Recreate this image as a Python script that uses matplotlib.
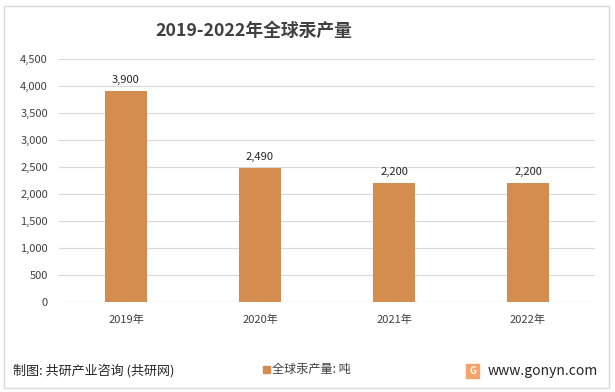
import matplotlib.pyplot as plt
from matplotlib.patches import Rectangle
import numpy as np

plt.rcParams["font.family"] = ["Noto Sans CJK SC", "DejaVu Sans"]

years = ["2019年", "2020年", "2021年", "2022年"]
output = [3900, 2490, 2200, 2200]
yticks = [0, 500, 1000, 1500, 2000, 2500, 3000, 3500, 4000, 4500]

W, H = 615, 392
fig = plt.figure(figsize=(W / 100, H / 100), dpi=100)


def box(x0, y0, x1, y1):
    # pixel coords (top-left origin) -> figure fraction
    return [x0 / W, 1 - y1 / H, (x1 - x0) / W, (y1 - y0) / H]


fig.patches.append(Rectangle((4 / W, 1 - 388 / H), 605 / W, 382 / H,
                             transform=fig.transFigure, fill=False,
                             edgecolor="#d9d9d9", linewidth=1))

ax = fig.add_axes(box(59, 59, 595, 302))
x = np.arange(len(years))
ax.bar(x, output, width=0.31, color="#D48C4F", zorder=3)
for xi, v in zip(x, output):
    ax.text(xi, v + 110, f"{v:,}", ha="center", va="bottom", fontsize=8,
            color="#262626")

ax.set_xlim(-0.5, 3.5)
ax.set_ylim(0, 4500)
ax.set_yticks(yticks)
ax.set_yticklabels([f"{t:,}" for t in yticks], fontsize=8, color="#404040")
ax.set_xticks(x)
ax.set_xticklabels(years, fontsize=8, color="#404040")
ax.tick_params(length=0, pad=8)
ax.tick_params(axis="x", pad=9)
ax.grid(axis="y", color="#d9d9d9", linewidth=0.8, zorder=0)
for s in ax.spines.values():
    s.set_visible(False)
ax.axhline(0, color="#d9d9d9", linewidth=0.8, zorder=1)

fig.text(254 / W, 1 - 31 / H, "2019-2022年全球汞产量", ha="center", va="center",
         fontsize=12.8, fontweight="bold", color="#404040")

# legend
fig.patches.append(Rectangle((263 / W, 1 - 373 / H), 7 / W, 7 / H,
                             transform=fig.transFigure, color="#D48C4F"))
fig.text(272 / W, 1 - 369 / H, "全球汞产量: 吨", ha="left", va="center",
         fontsize=8.7, color="#404040")

fig.text(13 / W, 1 - 371 / H, "制图: 共研产业咨询 (共研网)", ha="left", va="center",
         fontsize=9.4, color="#262626")
fig.text(488 / W, 1 - 371 / H, "www.gonyn.com", ha="left", va="center",
         fontsize=10, color="#262626")
fig.patches.append(Rectangle((466 / W, 1 - 378 / H), 13 / W, 14 / H,
                             transform=fig.transFigure, color="#F4A46A"))
fig.text(472.5 / W, 1 - 371 / H, "G", ha="center", va="center", fontsize=7,
         fontweight="bold", color="white")

fig.savefig("out.png", dpi=100)
